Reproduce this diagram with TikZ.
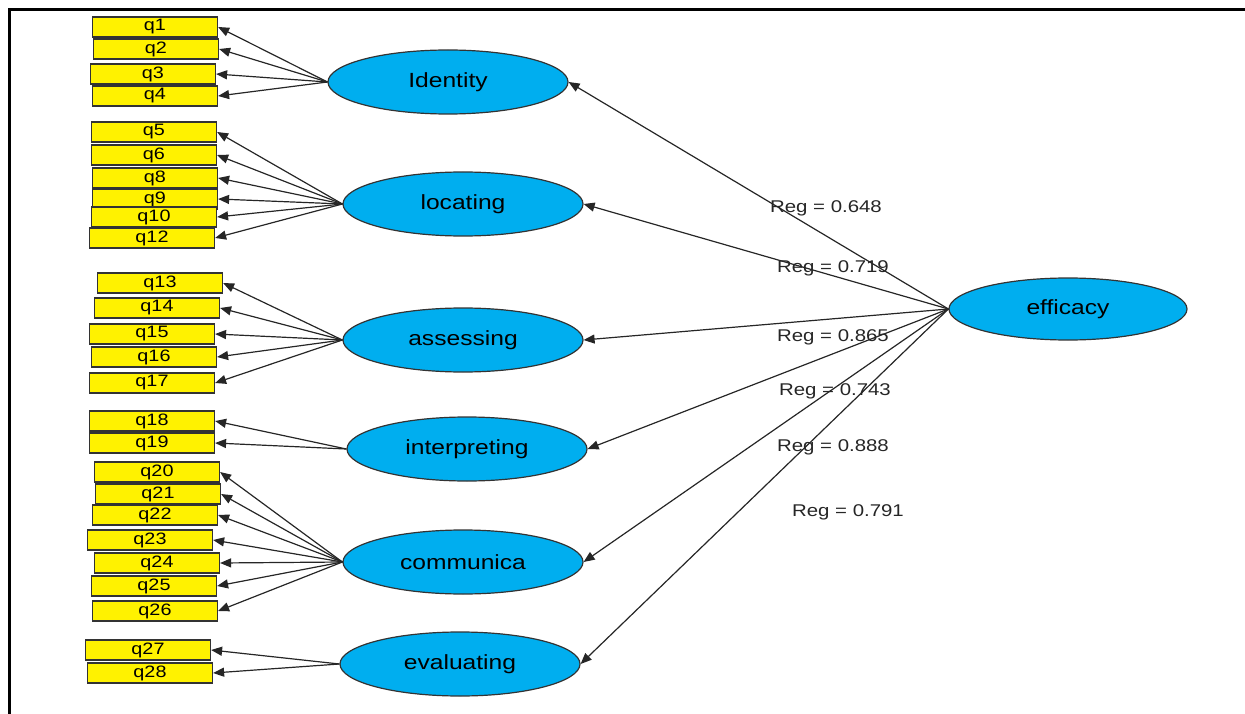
\documentclass[tikz,border=0pt]{standalone}
\usepackage{fontspec}
\setmainfont{Liberation Sans}[FakeStretch=1.2]
\usetikzlibrary{arrows.meta}
\usetikzlibrary{shapes.geometric}
\tikzset{>={Triangle[length=11pt,width=9pt]}}
\definecolor{latcol}{RGB}{0,174,239}
\tikzset{item/.style={draw=black!80,fill=yellow,line width=1.2pt,minimum width=125pt,minimum height=20pt,inner sep=0pt,font=\fontsize{16.5}{18}\selectfont}}
\tikzset{latent/.style={ellipse,draw=black!80,fill=latcol,line width=1.2pt,minimum width=240pt,minimum height=64pt,inner sep=0pt,font=\fontsize{20.5}{24}\selectfont}}
\tikzset{reg/.style={inner sep=0pt,font=\fontsize{17}{20}\selectfont,text=black!85}}
\tikzset{path/.style={->,draw=black!85,line width=1.2pt}}

\begin{document}
\begin{tikzpicture}[x=1pt,y=-1pt]
                \useasboundingbox (0,0) rectangle (1245,714);
                % frame
                \draw[line width=3pt] (9,714) -- (9,10) -- (1245,10);

                % latent variables
                \node[latent] (id) at (448,82) {Identity};
                \node[latent] (lo) at (463,204) {locating};
                \node[latent] (as) at (463,340) {assessing};
                \node[latent] (in) at (467,449) {interpreting};
                \node[latent] (co) at (463,562) {communica};
                \node[latent] (ev) at (460,664) {evaluating};
                \node[latent, minimum width=238pt, minimum height=62pt] (ef) at (1068,309) {efficacy};

                % items
                \foreach \q/\x/\y in {1/155/27, 2/156/49, 3/153/74, 4/155/96,
                        5/154/132, 6/154/155, 8/155/178, 9/155/199, 10/154/217, 12/152/238,
                        13/160/283, 14/157/308, 15/152/334, 16/154/357, 17/152/383,
                        18/152/421, 19/152/443,
                        20/157/472, 21/158/494, 22/155/515, 23/150/540, 24/157/563, 25/154/586, 26/155/611,
                        27/148/650, 28/150/673}
                    \node[item] (q\q) at (\x,\y) {q\q};

                % loadings
                \foreach \q/\f in {1/id, 2/id, 3/id, 4/id,
                        5/lo, 6/lo, 8/lo, 9/lo, 10/lo, 12/lo,
                        13/as, 14/as, 15/as, 16/as, 17/as,
                        18/in, 19/in,
                        20/co, 21/co, 22/co, 23/co, 24/co, 25/co, 26/co,
                        27/ev, 28/ev}
                    \draw[path] (\f.west) -- (q\q.east);

                % regressions
                \foreach \f in {id,lo,as,in,co,ev}
                    \draw[path] (ef.west) -- (\f.east);

                \node[reg] (r1) at (826,208) {Reg = 0.648};
                \node[reg] (r2) at (833,268) {Reg = 0.719};
                \node[reg] (r3) at (833,337) {Reg = 0.865};
                \node[reg] (r4) at (835,391) {Reg = 0.743};
                \node[reg] (r5) at (833,447) {Reg = 0.888};
                \node[reg] (r6) at (848,512) {Reg = 0.791};
            \end{tikzpicture}
\end{document}
